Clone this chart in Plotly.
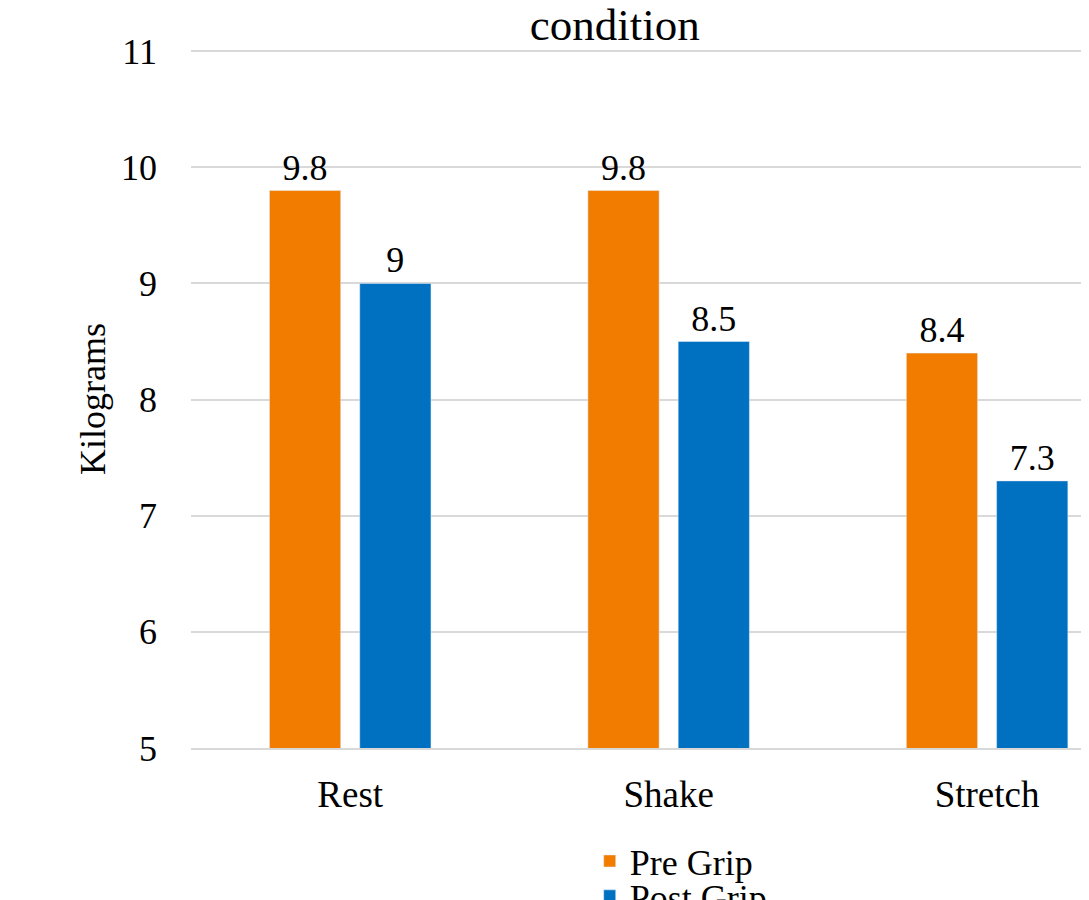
import plotly.graph_objects as go

categories = ["Rest", "Shake", "Stretch"]
pre_grip = [9.8, 9.8, 8.4]
post_grip = [9.0, 8.5, 7.3]
y_ticks = [5, 6, 7, 8, 9, 10, 11]

FONT = "Liberation Serif"
ORANGE = "#F27C00"
BLUE = "#0070C0"
FS = 36

fig = go.Figure()
fig.add_trace(go.Bar(
    name="Pre Grip", x=categories, y=pre_grip, marker_color=ORANGE,
    text=[f"{v:g}" for v in pre_grip], textposition="outside",
    textfont=dict(family=FONT, size=FS, color="#000"), cliponaxis=False,
    legend="legend",
))
fig.add_trace(go.Bar(
    name="Post Grip", x=categories, y=post_grip, marker_color=BLUE,
    text=[f"{v:g}" for v in post_grip], textposition="outside",
    textfont=dict(family=FONT, size=FS, color="#000"), cliponaxis=False,
    legend="legend2",
))

leg_common = dict(orientation="v", xanchor="left", yanchor="top",
                  font=dict(family=FONT, size=FS, color="#000"),
                  bgcolor="rgba(0,0,0,0)")

fig.update_layout(
    width=1081, height=892,
    margin=dict(l=183, r=0, t=42, b=152, autoexpand=False),
    paper_bgcolor="white", plot_bgcolor="white",
    font=dict(family=FONT, size=FS, color="#000"),
    barmode="group", bargap=0.433, bargroupgap=0.211,
    title=dict(text="condition", x=0.472, xref="paper", xanchor="center",
               y=1.0, yref="container", yanchor="top",
               font=dict(family=FONT, size=45, color="#000")),
    legend=dict(x=0.444, y=-0.119, **leg_common),
    legend2=dict(x=0.444, y=-0.169, **leg_common),
    showlegend=True,
)
fig.update_xaxes(
    type="category", range=[-0.5, 2.32], showgrid=False,
    showline=True, linecolor="#d9d9d9", linewidth=2,
    ticks="", ticklabelstandoff=13,
    tickfont=dict(family=FONT, size=37, color="#000"),
)
fig.update_yaxes(
    range=[5, 11.01], tickvals=y_ticks, showgrid=True, gridcolor="#d9d9d9", gridwidth=2,
    zeroline=False, showline=False, ticks="", ticklabelstandoff=33,
    tickfont=dict(family=FONT, size=FS, color="#000"),
    title=dict(text="Kilograms", standoff=4, font=dict(family=FONT, size=FS, color="#000")),
)

fig.write_html("out.html")
